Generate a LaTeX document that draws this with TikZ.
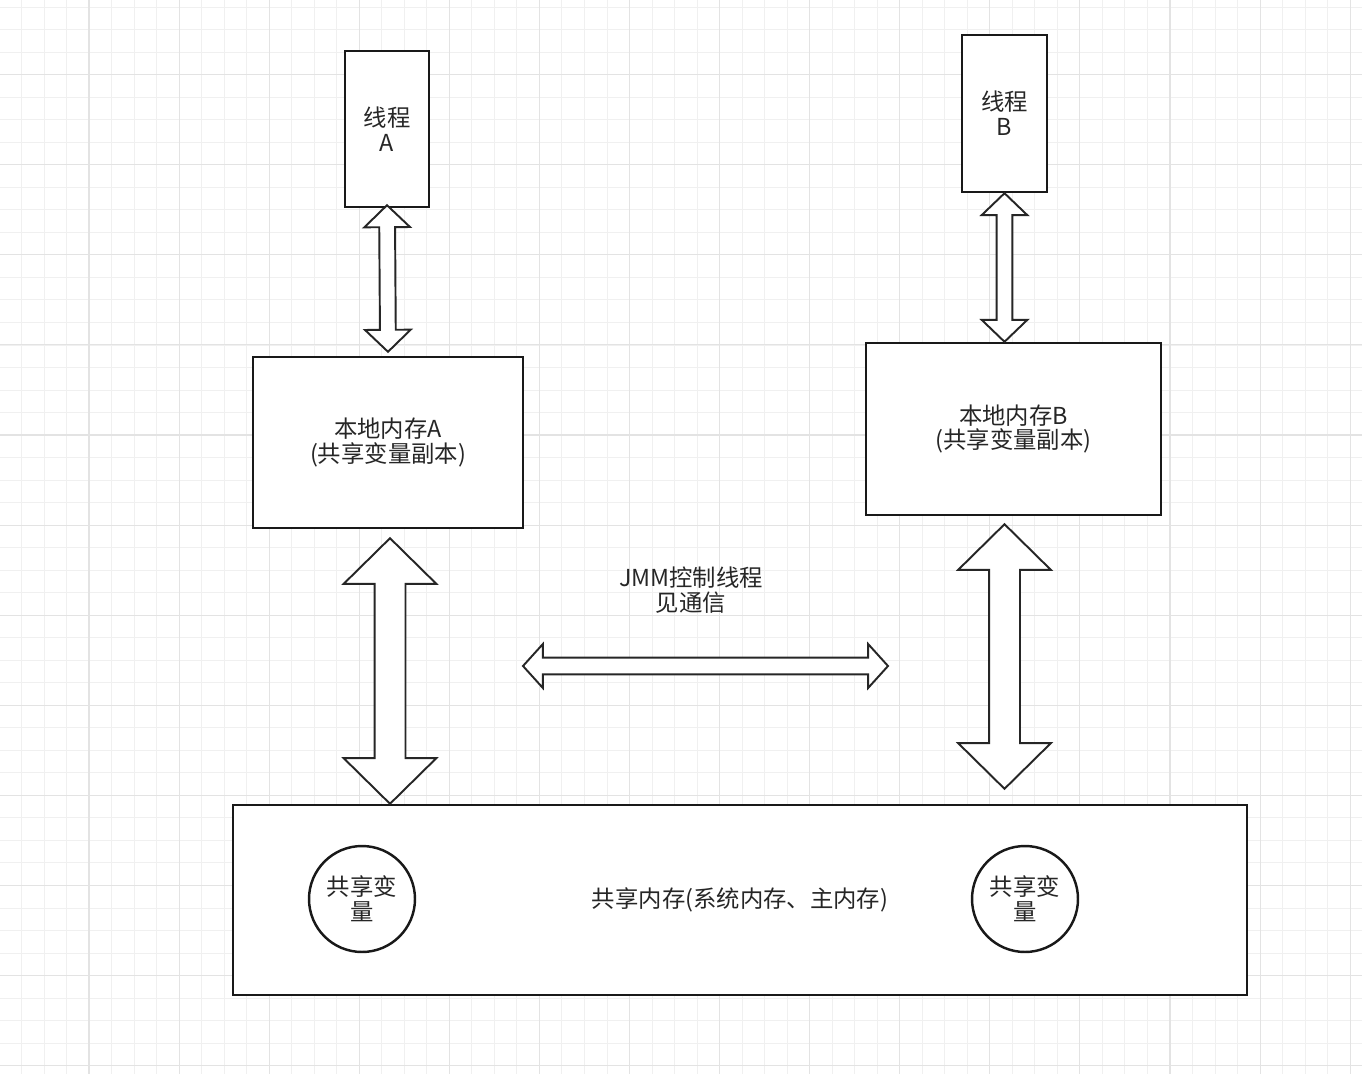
\documentclass[tikz,border=0pt]{standalone}
\usepackage{fontspec}
\setmainfont{Noto Sans CJK SC}
\usetikzlibrary{calc}
\tikzset{
	box/.style={draw=black!90, line width=1.4pt, fill=white, align=center, inner sep=0pt, text=black!85, font=\fontsize{13.3}{14.2}\selectfont},
	bubble/.style={box, circle, minimum size=2.12cm},
	label/.style={align=center, text=black!85, font=\fontsize{13.3}{14.2}\selectfont},
	hollow/.style={draw=black!85, line width=1.1pt, fill=white, line join=miter},
	minorline/.style={draw=black!6, line width=0.5pt},
	majorline/.style={draw=black!11, line width=0.6pt}
}
% #1 start, #2 end, #3 half shaft, #4 half head, #5 head length
\newcommand{\twoway}[5]{%
	\draw[hollow] (#1) -- ($(#1)!#5!(#2)!#4!90:(#2)$) -- ($(#1)!#5!(#2)!#3!90:(#2)$)
		-- ($(#2)!#5!(#1)!#3!-90:(#1)$) -- ($(#2)!#5!(#1)!#4!-90:(#1)$) -- (#2)
		-- ($(#2)!#5!(#1)!#4!90:(#1)$) -- ($(#2)!#5!(#1)!#3!90:(#1)$)
		-- ($(#1)!#5!(#2)!#3!-90:(#2)$) -- ($(#1)!#5!(#2)!#4!-90:(#2)$) -- cycle;}
\begin{document}
\begin{tikzpicture}[x=0.02cm, y=-0.02cm]
	\fill[white] (0,0) rectangle (1362,1074);
	\useasboundingbox (0,0) rectangle (1362,1074);
	\foreach \i in {0,...,59} \draw[minorline] ({21.44+22.52*\i},0)--({21.44+22.52*\i},1074);
	\foreach \j in {0,...,47} \draw[minorline] (0,{7.14+22.52*\j})--(1362,{7.14+22.52*\j});
	\foreach \i in {3,7,...,59} \draw[majorline] ({21.44+22.52*\i},0)--({21.44+22.52*\i},1074);
	\foreach \j in {3,7,...,47} \draw[majorline] (0,{7.14+22.52*\j})--(1362,{7.14+22.52*\j});

	\node[box, minimum width=1.68cm, minimum height=3.12cm] (tA) at (387,129) {线程\\A};
	\node[box, minimum width=1.70cm, minimum height=3.14cm] (tB) at (1004.5,113.5) {线程\\B};
	\node[box, minimum width=5.4cm, minimum height=3.42cm] (locA) at (388,442.5) {本地内存A\\(共享变量副本)};
	\node[box, minimum width=5.9cm, minimum height=3.44cm] (locB) at (1013.5,429) {本地内存B\\(共享变量副本)};
	\node[box, minimum width=20.28cm, minimum height=3.8cm] (mem) at (740,900) {共享内存(系统内存、主内存)};
	\node[bubble] (varA) at (362,899) {共享变\\量};
	\node[bubble] (varB) at (1025,899) {共享变\\量};
	\node[label] (jmm) at (691,590) {JMM控制线程\\见通信};

	\coordinate (pT1) at ($(tA.south)+(0,-3)$);
	\coordinate (pT2) at ($(locA.north)+(0,-4)$);
	\coordinate (pA1) at ($(locA.south)+(2,9)$);
	\coordinate (pA2) at (pA1 |- mem.north);
	\coordinate (pB1) at ($(tB.south |- locB.south)+(0,8)$);
	\coordinate (pB2) at ($(pB1 |- mem.north)+(0,-15)$);
	\coordinate (pH1) at (523,666);
	\coordinate (pH2) at (888,666);

	\twoway{pT1}{pT2}{4.5pt}{13pt}{12.5pt}
	\twoway{tB.south}{tB.south |- locB.north}{4.5pt}{13pt}{12.5pt}
	\twoway{pA1}{pA2}{8.8pt}{26.4pt}{26pt}
	\twoway{pB1}{pB2}{8.8pt}{26.4pt}{26pt}
	\twoway{pH1}{pH2}{4.8pt}{12.5pt}{11.3pt}
\end{tikzpicture}
\end{document}
